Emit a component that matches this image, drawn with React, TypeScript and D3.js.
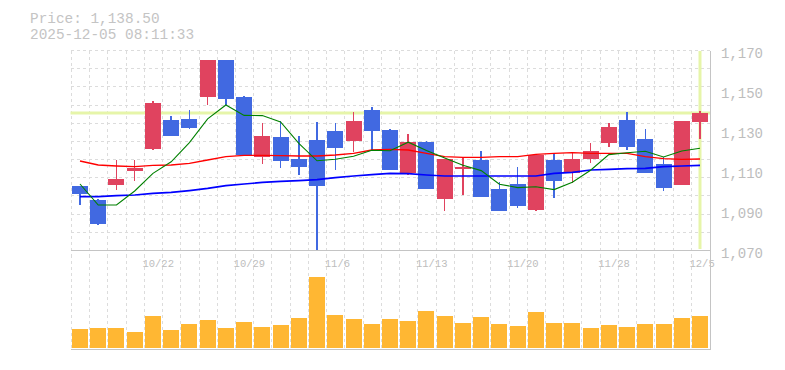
import React from "react";
import * as d3 from "d3";

const dates = ["10/16","10/17","10/20","10/21","10/22","10/23","10/24","10/27","10/28","10/29","10/30","10/31","11/4","11/5","11/6","11/7","11/10","11/11","11/12","11/13","11/14","11/17","11/18","11/19","11/20","11/21","11/25","11/26","11/27","11/28","12/1","12/2","12/3","12/4","12/5"];
const opens = [1102,1095,1102.5,1109.7,1120.7,1135,1135.5,1146.7,1165,1146.5,1116.7,1126.5,1115.5,1125,1129.5,1124.7,1140,1130,1108.7,1124.2,1095.7,1110.7,1115,1100.5,1103,1090,1115,1108.7,1115.5,1123.7,1135,1125.5,1113,1102.7,1134.2];
const highs = [1102.2,1095.3,1115,1115,1144.5,1137,1140,1165,1165,1147,1133.7,1134.5,1127,1134,1133.7,1139,1141.7,1130.7,1128,1124.4,1115.5,1116.7,1119.5,1104.2,1111.5,1118,1118.3,1118.7,1123.3,1133.3,1139.2,1130.5,1116.7,1134.5,1139.7];
const lows = [1092.7,1082.7,1100,1104.7,1120,1127,1130.5,1142.5,1142.5,1117.5,1113,1111.2,1107.5,1070,1110.2,1118.8,1120,1110,1107.5,1100.5,1089.7,1097.5,1096.5,1089.5,1091.2,1089.5,1096.2,1103.3,1113.7,1121.3,1120,1108.5,1099.5,1102.5,1125.7];
const closes = [1098.2,1083.2,1105.5,1111.2,1143.5,1127.2,1131,1165,1145.7,1117.5,1127,1114.7,1111.7,1102.2,1121.2,1134.5,1129.7,1110.2,1124,1100.7,1115.5,1111.7,1096.7,1089.7,1092.2,1117.5,1104.7,1115.5,1119.5,1131.5,1121.7,1108.7,1101.2,1134.5,1138.5];
const maShort = [1103,1092.5,1092.5,1099.5,1108.3,1114.1,1123.7,1135.6,1142.5,1137.3,1137.2,1134,1123.3,1114.6,1115.4,1116.9,1119.9,1119.6,1123.9,1119.8,1116,1112.4,1109.7,1102.9,1101.2,1101.6,1100.2,1103.9,1109.9,1117.7,1118.6,1119.4,1116.5,1119.5,1120.9];
const maMid = [1114.5,1112.5,1112,1111.7,1112.3,1112.5,1113.3,1115,1116.7,1117.3,1117.3,1117.2,1117,1117,1117.5,1118.3,1120,1120.3,1120,1118.3,1116.7,1116.3,1116.3,1116.7,1116.7,1117.8,1118.3,1118.7,1118.3,1118.3,1118.3,1116.7,1115.7,1115.3,1115.5];
const maLong = [1096.7,1096.7,1097.2,1097.5,1098.3,1098.8,1099.7,1100.8,1102.2,1103,1103.8,1104.3,1104.7,1105.2,1106.2,1107,1107.7,1108.3,1108.2,1107.5,1107,1107,1107,1107,1107,1107,1108.3,1108.8,1110,1110.3,1110.7,1110.8,1111.7,1112,1112.3];
const volumes = [193,207,207,167,327,187,247,287,207,267,217,237,307,717,337,297,247,297,277,377,327,257,317,247,227,367,257,257,207,237,217,247,247,307,327];
const priceTicks = [1070,1090,1110,1130,1150,1170];
const xLabelDates = ["10/22","10/29","11/6","11/13","11/20","11/28","12/5"];
const currentPrice = 1138.5;
const titleLines = ["Price: 1,138.50", "2025-12-05 08:11:33"];

const W = 785, H = 370;
const MONO = "'Liberation Mono', 'DejaVu Sans Mono', monospace";

export default function App() {
  const idx = d3.range(dates.length);
  const x = d3.scalePoint<number>().domain(idx).range([80, 700]);
  const step = x.step();
  const y = d3.scaleLinear().domain([1070, 1170]).range([250, 50]);
  const yv = d3.scaleLinear().domain([0, 1000]).range([348.3, 248.3]);
  const bodyW = 16;
  const left = 70.5, right = 710.5, top = 50.5, priceBottom = 250.5, volBottom = 349.5;

  const hGrid = d3.range(12).map((k) => top + (k * (priceBottom - top)) / 11);
  const vGrid = d3.range(dates.length).map((i) => Math.round((x(i) as number) - step / 2) + 0.5);

  const line = (vals: number[]) =>
    d3.line<number>().x((_, i) => x(i) as number).y((v) => y(v))(vals) || "";

  const lastX = x(dates.length - 1) as number;

  return (
    <svg width={W} height={H} style={{ position: "absolute", left: 0, top: 0, background: "#fff" }}>
      {/* title */}
      <text x={30} y={22.5} fontFamily={MONO} fontSize={14.4} fill="#c4c4c4">{titleLines[0]}</text>
      <text x={30} y={38.5} fontFamily={MONO} fontSize={14.4} fill="#c4c4c4">{titleLines[1]}</text>

      {/* grid */}
      <g stroke="#dcdcdc" strokeWidth={1} strokeDasharray="3,3" shapeRendering="crispEdges">
        {hGrid.slice(0, 11).map((gy, k) => (
          <line key={"h" + k} x1={left} x2={right} y1={gy} y2={gy} />
        ))}
        {vGrid.map((gx, i) => (
          <line key={"v" + i} x1={gx} x2={gx} y1={top} y2={volBottom} />
        ))}
      </g>

      {/* x labels */}
      {xLabelDates.map((d) => {
        const i = dates.indexOf(d);
        return (
          <text key={d} x={(x(i) as number) - 10.5} y={266.5} fontFamily={MONO} fontSize={10.5} fill="#bdbdbd">{d}</text>
        );
      })}

      {/* volume */}
      <g fill="#ffb733" shapeRendering="crispEdges">
        {volumes.map((v, i) => (
          <rect key={i} x={(x(i) as number) - bodyW / 2} y={yv(v)} width={bodyW} height={yv(0) - yv(v)} />
        ))}
      </g>

      {/* highlight lines */}
      <line x1={left} x2={right} y1={y(currentPrice)} y2={y(currentPrice)} stroke="#e6f5a9" strokeWidth={3} />
      <line x1={lastX} x2={lastX} y1={51} y2={249} stroke="#e6f5a9" strokeWidth={3} />

      {/* candles */}
      {idx.map((i) => {
        const up = closes[i] >= opens[i];
        const c = up ? "#e0435f" : "#4169e1";
        const cx = x(i) as number;
        const yTop = y(Math.max(opens[i], closes[i]));
        const yBot = y(Math.min(opens[i], closes[i]));
        return (
          <g key={i} shapeRendering="crispEdges">
            <line x1={cx} x2={cx} y1={y(highs[i])} y2={y(lows[i])} stroke={c} strokeWidth={1.5} />
            <rect x={cx - bodyW / 2} y={yTop} width={bodyW} height={Math.max(2, yBot - yTop)} fill={c} />
          </g>
        );
      })}

      {/* moving averages */}
      <path d={line(maLong)} fill="none" stroke="#0000ff" strokeWidth={1.6} />
      <path d={line(maMid)} fill="none" stroke="#ff0000" strokeWidth={1.4} />
      <path d={line(maShort)} fill="none" stroke="#008000" strokeWidth={1.1} />

      {/* frame */}
      <g stroke="#c4c4c4" strokeWidth={1} shapeRendering="crispEdges">
        <line x1={left} x2={right} y1={priceBottom} y2={priceBottom} />
        <line x1={left} x2={right} y1={volBottom} y2={volBottom} />
        <line x1={right} x2={right} y1={top} y2={volBottom} />
      </g>

      {/* y labels */}
      {priceTicks.map((t) => (
        <text key={t} x={721} y={y(t) + 8} fontFamily={MONO} fontSize={14} fill="#bdbdbd">{d3.format(",")(t)}</text>
      ))}
    </svg>
  );
}
